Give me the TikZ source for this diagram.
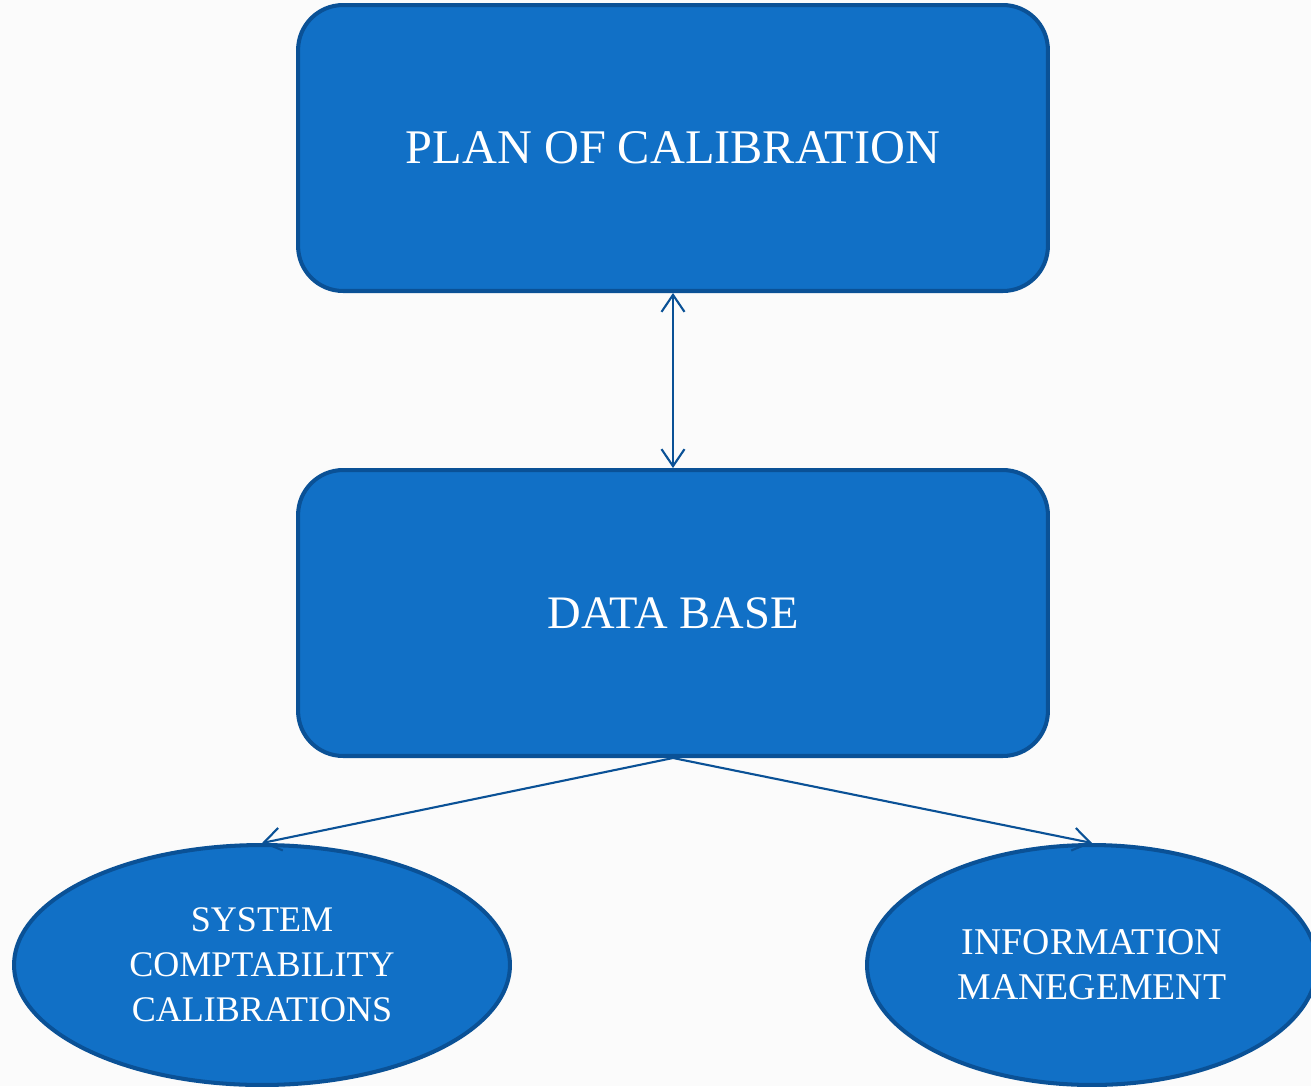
\documentclass[tikz,border=0pt]{standalone}
\usepackage{fontspec}
\setmainfont{Liberation Serif}
\usetikzlibrary{arrows.meta,shapes.geometric}
\definecolor{boxfill}{HTML}{1170C6}
\definecolor{boxline}{HTML}{0A5196}
\definecolor{bgc}{HTML}{FBFBFB}
\tikzset{
  bigbox/.style={draw=boxline, line width=2.3pt, fill=boxfill, rounded corners=0.9cm,
    minimum width=15cm, minimum height=5.72cm, text=white},
  oval/.style={ellipse, draw=boxline, line width=2.3pt, fill=boxfill, text=white, inner sep=0pt,
    minimum height=4.8cm, align=center},
  conn/.style={draw=boxline, line width=1.2pt, -{Straight Barb[length=3.4mm,width=4.6mm]}},
}
\begin{document}
\begin{tikzpicture}[x=0.02cm,y=-0.02cm]
\fill[bgc] (0,0) rectangle (1311,1086);
\useasboundingbox (0,0) rectangle (1311,1086);
\node[bigbox, font=\fontsize{27.5}{32}\selectfont] (plan) at (673,148) {PLAN OF CALIBRATION};
\node[bigbox, font=\fontsize{26.5}{32}\selectfont] (db) at (673,613) {DATA BASE};
\node[oval, minimum width=9.92cm, font=\fontsize{20.5}{25.6}\selectfont] (sys) at (262,965) {SYSTEM\\COMPTABILITY\\CALIBRATIONS};
\node[oval, minimum width=9cm, font=\fontsize{21.5}{25.6}\selectfont] (info) at (1092,965) {INFORMATION\\MANEGEMENT};
\draw[conn, {Straight Barb[length=3.4mm,width=4.6mm]}-{Straight Barb[length=3.4mm,width=4.6mm]}] (plan.south) -- (db.north);
\draw[conn] (db.south) -- (sys.north);
\draw[conn] (db.south) -- (info.north);
\end{tikzpicture}
\end{document}
